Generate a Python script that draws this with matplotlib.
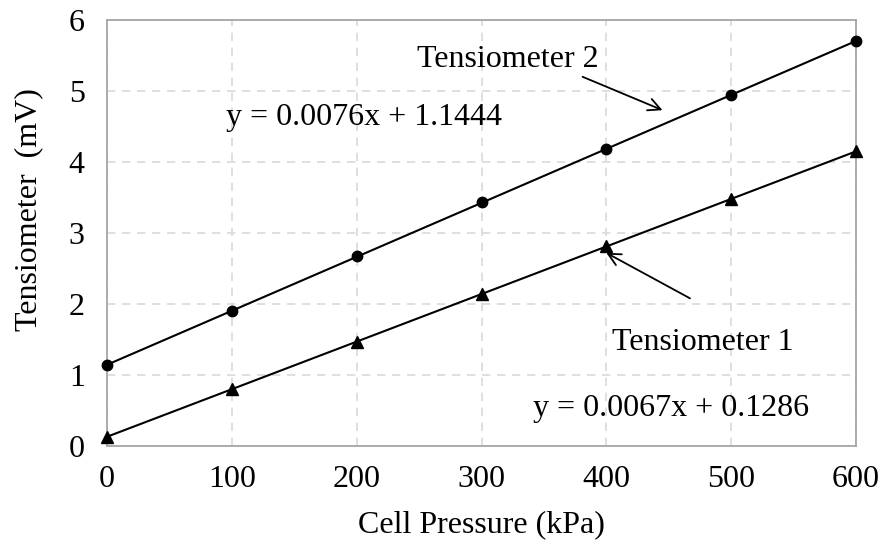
import numpy as np
import matplotlib
matplotlib.use("Agg")
import matplotlib.pyplot as plt

pressure = [0, 100, 200, 300, 400, 500, 600]
tens1 = [0.13, 0.80, 1.47, 2.14, 2.81, 3.48, 4.15]
tens2 = [1.14, 1.90, 2.67, 3.43, 4.19, 4.94, 5.70]
eq1 = "y = 0.0067x + 0.1286"
eq2 = "y = 0.0076x + 1.1444"

plt.rcParams['font.family'] = ['Liberation Serif', 'DejaVu Serif']
FS = 23

fig = plt.figure(figsize=(8.82, 5.46), dpi=100)
ax = fig.add_axes([107/882, 1-446/546, (856-107)/882, (446-20)/546])

xs = np.array(pressure, dtype=float)
for ys, mk, ms in [(tens2, 'o', 7.5), (tens1, '^', 8.5)]:
    p = np.polyfit(xs, ys, 1)
    xl = np.array([0, 600])
    ax.plot(xl, np.polyval(p, xl), color='black', lw=1.5, zorder=3)
    ax.plot(xs, ys, linestyle='none', marker=mk, ms=ms, color='black', zorder=4, clip_on=False)

ax.set_xlim(0, 600)
ax.set_ylim(0, 6)
ax.set_xticks(range(0, 601, 100))
ax.set_yticks(range(0, 7))
ax.grid(True, color='#d9d9d9', linestyle=(0, (5, 4)), lw=1.2)
ax.set_axisbelow(True)
for s in ax.spines.values():
    s.set_color('#a6a6a6')
    s.set_linewidth(1.3)
ax.tick_params(length=0, labelsize=FS, pad=14)
ax.tick_params(axis='y', pad=16)
ax.set_xlabel('Cell Pressure (kPa)', fontsize=FS, labelpad=11)
ax.set_ylabel('Tensiometer  (mV)', fontsize=FS)
ax.yaxis.set_label_coords(-0.085, 0.556)

arrow = dict(arrowstyle='->', color='black', lw=1.3, mutation_scale=22, shrinkA=0, shrinkB=0)
ax.annotate('', xy=(445, 4.73), xytext=(381, 5.20), arrowprops=arrow)
ax.annotate('', xy=(400, 2.72), xytext=(467, 2.08), arrowprops=arrow)
ax.text(321, 5.44, 'Tensiometer 2', fontsize=FS, ha='center', va='center')
ax.text(477, 1.46, 'Tensiometer 1', fontsize=FS, ha='center', va='center')
ax.text(95, 4.62, eq2, fontsize=FS, va='center', ha='left')
ax.text(341, 0.535, eq1, fontsize=FS, va='center', ha='left')

fig.savefig('out.png', dpi=100)
